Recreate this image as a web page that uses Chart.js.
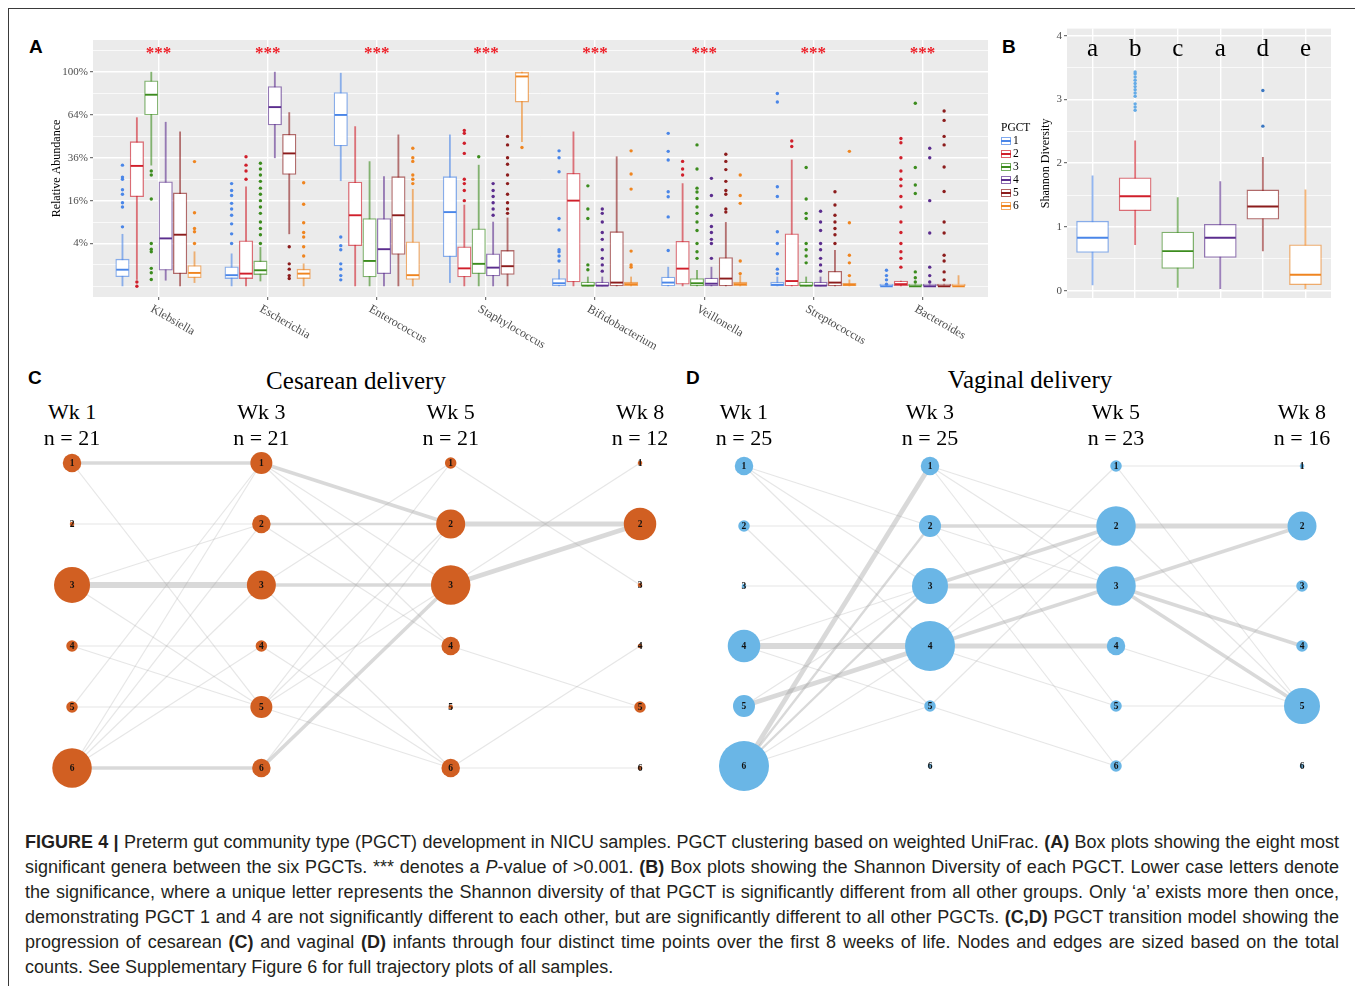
<!DOCTYPE html>
<html>
<head>
<meta charset="utf-8">
<script src="https://cdn.jsdelivr.net/npm/chart.js@4.4.1/dist/chart.umd.min.js"></script>
<style>
body { margin: 0; width: 1355px; height: 986px; position: relative; background: #fff; overflow: hidden; font-family: 'Liberation Serif', 'Times New Roman', serif; }
#frame { position: absolute; left: 8px; top: 8px; width: 1400px; height: 1000px; border-left: 1px solid #3a3a3a; border-top: 1px solid #3a3a3a; }
canvas { position: absolute; }
.plbl { position: absolute; font: bold 19px 'Liberation Sans', Arial, sans-serif; line-height: 22px; }
.title { position: absolute; font-size: 25px; line-height: 30px; width: 300px; margin-left: -150px; text-align: center; }
.hdr { position: absolute; font-size: 22px; line-height: 26px; width: 100px; margin-left: -50px; text-align: center; white-space: nowrap; }
#legB { position: absolute; left: 1001px; top: 121px; font-size: 11.5px; line-height: 13px; }
#legB .gl { display: inline-block; width: 8px; height: 6px; margin-right: 2px; vertical-align: -1px; border: 1px solid; }
#caption { position: absolute; left: 25px; top: 830px; width: 1314px; font: 18px 'Liberation Sans', Arial, sans-serif; line-height: 25px; color: #231f20; }
#caption .ln { white-space: nowrap; text-align: justify; text-align-last: justify; }
#caption .ln.last { text-align-last: left; }
</style>
</head>
<body>
<div id="frame"></div>

<div class="plbl" style="left:29px;top:36px">A</div>
<div class="plbl" style="left:1002px;top:36px">B</div>
<div class="plbl" style="left:28px;top:367px">C</div>
<div class="plbl" style="left:686px;top:367px">D</div>

<canvas id="chartA" width="975" height="330" style="left:20px;top:30px"></canvas>
<canvas id="chartB" width="350" height="300" style="left:995px;top:20px"></canvas>
<div id="legB"></div>

<div class="title" style="left:356px;top:366px">Cesarean delivery</div>
<div class="title" style="left:1030px;top:365px">Vaginal delivery</div>
<canvas id="chartC" width="660" height="360" style="left:30px;top:440px"></canvas>
<canvas id="chartD" width="660" height="360" style="left:690px;top:440px"></canvas>

<div id="caption">
<div class="ln"><b>FIGURE 4 |</b> Preterm gut community type (PGCT) development in NICU samples. PGCT clustering based on weighted UniFrac. <b>(A)</b> Box plots showing the eight most</div>
<div class="ln">significant genera between the six PGCTs. *** denotes a <i>P</i>-value of &gt;0.001. <b>(B)</b> Box plots showing the Shannon Diversity of each PGCT. Lower case letters denote</div>
<div class="ln">the significance, where a unique letter represents the Shannon diversity of that PGCT is significantly different from all other groups. Only ‘a’ exists more then once,</div>
<div class="ln">demonstrating PGCT 1 and 4 are not significantly different to each other, but are significantly different to all other PGCTs. <b>(C,D)</b> PGCT transition model showing the</div>
<div class="ln">progression of cesarean <b>(C)</b> and vaginal <b>(D)</b> infants through four distinct time points over the first 8 weeks of life. Nodes and edges are sized based on the total</div>
<div class="ln last">counts. See Supplementary Figure 6 for full trajectory plots of all samples.</div>
</div>

<script>
// ---- panel A: relative abundance, [lower whisker, Q1, median, Q3, upper whisker] in %
const genera = ['Klebsiella', 'Escherichia', 'Enterococcus', 'Staphylococcus', 'Bifidobacterium', 'Veillonella', 'Streptococcus', 'Bacteroides'];
const pgctLabels = ['1', '2', '3', '4', '5', '6'];
const abund1 = [[0, 0.2, 0.6, 1.6, 5.9], [0, 0.13, 0.27, 0.82, 2.3], [24.3, 42.9, 64, 81.9, 99], [0.03, 1.9, 12, 26.2, 50], [0, 0, 0.02, 0.13, 0.6], [0, 0, 0.03, 0.19, 0.8], [0, 0, 0.005, 0.04, 0.19], [0, 0, 0, 0.01, 0.01]];
const abund2 = [[0.1, 17.5, 31.6, 45.6, 62], [0, 0.13, 0.35, 4.5, 21.6], [0, 3.6, 11, 23.7, 55.6], [0, 0.19, 0.7, 3.4, 14.4], [0, 0.04, 16, 27.8, 52], [0, 0.01, 0.68, 4.4, 23], [0, 0, 0.06, 6, 34.8], [0, 0, 0.01, 0.06, 0.06]];
const abund3 = [[32, 64, 80, 92, 100], [0.06, 0.3, 0.56, 1.4, 3.3], [0, 0.19, 1.4, 10, 33.9], [0, 0.35, 1.1, 7.2, 32], [0, 0, 0.001, 0.04, 0.19], [0, 0, 0.02, 0.13, 0.56], [0, 0, 0.001, 0.04, 0.19], [0, 0, 0, 0.01, 0.01]];
const abund4 = [[0.08, 0.56, 5, 23.8, 58.7], [36, 56.7, 70, 87, 100], [0, 0.35, 3, 10, 26.2], [0, 0.23, 0.76, 2.3, 9], [0, 0, 0.001, 0.04, 0.19], [0, 0, 0.015, 0.15, 0.8], [0, 0, 0.001, 0.04, 0.19], [0, 0, 0, 0.01, 0.01]];
const abund5 = [[0, 0.35, 5.8, 19, 52], [6, 27.3, 38.5, 50.4, 65.8], [0, 2.2, 11, 26.2, 50], [0, 0.31, 0.88, 2.8, 10.2], [0, 0, 0.03, 6.5, 36.6], [0, 0, 0.13, 1.8, 8.9], [0, 0, 0.03, 0.49, 2.8], [0, 0, 0, 0.01, 0.01]];
const abund6 = [[0.03, 0.16, 0.39, 0.94, 2.6], [0, 0.13, 0.35, 0.64, 1.1], [0, 0.1, 0.27, 4.3, 20.5], [45.6, 74, 96, 99.7, 100], [0, 0, 0.01, 0.04, 0.19], [0, 0, 0.01, 0.04, 0.25], [0, 0, 0.005, 0.02, 0.09], [0, 0, 0, 0.01, 0.25]];
// outliers in %, one list per genus
const outA1 = [[7.7, 13.7, 15.2, 18.5, 20.3, 25, 26, 32], [4, 6, 8.5, 11, 13, 15, 18, 20, 23], [0.09, 0.25, 0.64, 1.1, 2.9, 3.6, 5.3], [], [1.4, 2, 2.6, 2.9, 6.9, 10, 28.6, 36, 40], [2.8, 10.5, 17.5, 19.5, 34.8, 39.7, 51], [0.35, 0.64, 2.3, 4, 6.5, 17.6, 21.6, 74, 81], [0.01, 0.09, 0.25, 0.56]];
const outA2 = [[0, 0.04], [25, 29, 32, 36.6], [], [16, 20, 23, 25, 38.5, 44.6, 51, 53], [], [27, 30, 34], [42.6, 46], [0.8, 1.7, 2.6, 4, 6.3, 9, 13.7, 17.6, 22, 25, 29, 36, 44.9, 47.6]];
const outA3 = [[0.1, 0.4, 0.7, 2.6, 3, 4, 16.6, 27, 29], [4, 5.8, 7.3, 9, 11.6, 13.7, 16, 18.5, 21, 24, 27, 30, 33], [], [36.6], [0.6, 1, 10, 13, 22], [1.7, 2.6, 4, 6.8, 9, 11.6, 13.7, 16.8, 19.4, 21, 30, 43.6], [1.2, 2, 2.9, 4, 10, 11.6, 16.6, 30.8], [0.04, 0.16, 0.45, 18.8, 22.4, 30.8, 73]];
const outA4 = [[], [], [], [11, 13, 15.2, 17.6, 20, 23], [0.5, 1, 1.7, 2.9, 4.8, 6.3, 9, 11.6, 13], [1.7, 4, 4.8, 6.3, 7.8, 11, 18, 25.4], [0.5, 1, 1.7, 2.9, 4, 6.8, 9, 12.3], [0.04, 0.25, 0.8, 6.2, 16, 36, 41.5]];
const outA5 = [[], [0.13, 0.25, 0.64, 1.1, 3.4], [], [11.6, 13, 15.2, 18.5, 23, 27, 32.5, 36, 43.6, 49], [], [12, 13, 18.5, 20, 24, 29.7, 34, 38], [4, 5.8, 7.3, 9, 11, 14.4, 19.5], [0.09, 0.45, 1.4, 2.1, 6.2, 9, 19.6, 31, 43.6, 49, 60, 67]];
const outA6 = [[4, 6.5, 7.3, 11.8, 33.9], [2, 3.4, 5.3, 6.3, 8.8, 14.7, 23.4], [23, 25, 27, 34, 36, 41.5], [42], [0.8, 1, 2.7, 20.6, 27.5, 40], [0.35, 1.4, 15, 18, 27], [0.25, 1.2, 2.1, 8.8, 39.7], []];
const abundTicks = [0, 0.1, 0.2, 0.3, 0.4, 0.5, 0.6, 0.7, 0.8, 0.9, 1.0, 1.1];   // sqrt scale
const abundLabelled = [0.2, 0.4, 0.6, 0.8, 1.0];

// ---- panel B: Shannon diversity
const shannon = [[0.09, 0.6, 0.83, 1.09, 1.8], [0.72, 1.255, 1.48, 1.77, 2.35], [0.05, 0.35, 0.62, 0.92, 1.46], [0.03, 0.52, 0.83, 1.04, 1.71], [0.625, 1.12, 1.32, 1.58, 2.09], [0.026, 0.094, 0.25, 0.72, 1.58]];
const shannonOut = [[], [2.83, 2.88, 2.93, 3.05, 3.1, 3.15, 3.2, 3.25, 3.3, 3.35, 3.4, 3.43], [], [], [2.58, 3.14], []];
const sigLetters = ['a', 'b', 'c', 'a', 'd', 'e'];
const shannonTicks = [0, 0.5, 1, 1.5, 2, 2.5, 3, 3.5, 4];

// ---- panels C, D: PGCT counts per week and transitions [from, to, count]
const weeks = ['Wk 1', 'Wk 3', 'Wk 5', 'Wk 8'];
const cesN = [21, 21, 21, 12];
const vagN = [25, 25, 23, 16];
const cesNodes = [[3, 0, 8, 1, 1, 9], [4, 3, 6, 1, 4, 3], [1, 6, 9, 3, 0, 3], [0, 7, 0, 0, 1, 0]];
const vagNodes = [[3, 1, 0, 7, 4, 12], [3, 4, 8, 12, 1, 0], [1, 9, 9, 3, 1, 1], [0, 6, 1, 1, 8, 0]];
const cesW1W3 = [[1, 1, 3], [1, 5, 1], [2, 2, 1], [3, 2, 1], [3, 3, 5], [3, 5, 1], [4, 4, 1], [4, 5, 1], [5, 1, 1], [5, 5, 1], [6, 1, 1], [6, 2, 1], [6, 3, 1], [6, 4, 1], [6, 6, 3]];
const cesW3W5 = [[1, 2, 3], [1, 3, 1], [1, 4, 1], [2, 2, 2], [2, 4, 1], [3, 1, 1], [3, 3, 3], [3, 6, 1], [4, 4, 1], [4, 6, 1], [5, 1, 1], [5, 2, 1], [5, 3, 1], [5, 5, 1], [5, 6, 1], [6, 2, 1], [6, 3, 3]];
const cesW5W8 = [[1, 3, 1], [2, 2, 4], [3, 1, 1], [3, 2, 4], [4, 5, 1], [5, 5, 1], [6, 4, 1], [6, 6, 1]];
const vagW1W3 = [[1, 2, 1], [1, 3, 1], [1, 4, 1], [2, 2, 1], [2, 5, 1], [3, 3, 1], [4, 3, 1], [4, 4, 5], [4, 5, 1], [5, 3, 1], [5, 4, 4], [6, 1, 4], [6, 2, 2], [6, 3, 2], [6, 4, 1], [6, 5, 1]];
const vagW3W5 = [[1, 2, 1], [1, 3, 1], [1, 5, 1], [2, 2, 3], [2, 3, 1], [2, 6, 1], [3, 2, 3], [3, 3, 4], [4, 1, 1], [4, 2, 1], [4, 3, 3], [4, 4, 4], [4, 5, 1], [5, 2, 1], [5, 6, 1]];
const vagW5W8 = [[1, 1, 1], [1, 5, 1], [2, 2, 4], [2, 5, 1], [3, 2, 3], [3, 3, 1], [3, 4, 3], [3, 5, 3], [4, 5, 1], [5, 5, 1], [6, 3, 1]];

// styles
const pgctColors = ['#4a86e8', '#d01f2b', '#3c8c1e', '#5b2d8e', '#8c1c1c', '#ef8520'];
const shannonOutColors = ['#4a86e8', '#65abe6', '#3c8c1e', '#5b2d8e', '#3a77c2', '#ef8520'];
const cesColor = '#d15f22';
const vagColor = '#6ab6e6';
const serif = "'Liberation Serif', 'Times New Roman', serif";

Chart.defaults.font.family = serif;
Chart.defaults.animation = false;
Chart.defaults.events = [];
Chart.defaults.plugins.legend.display = false;
Chart.defaults.plugins.tooltip.enabled = false;

function fade(hex, a) {
    const n = parseInt(hex.slice(1), 16);
    return `rgba(${n >> 16},${(n >> 8) & 255},${n & 255},${a})`;
}
const sq = p => Math.sqrt(p / 100);
const near = (list, v) => list.some(m => Math.abs(m - v) < 1e-6);

// builds whisker, box, median and outlier datasets for one group of boxes
function boxDatasets(stats, outliers, xOf, col, outCol, boxPx, tf) {
    return [
        { type: 'bar', order: 4, grouped: false, barThickness: 1.2, borderWidth: 0,
          backgroundColor: fade(col, 0.6),
          data: stats.map((s, i) => ({ x: xOf(i), y: [tf(s[0]), tf(s[4])] })) },
        { type: 'bar', order: 3, grouped: false, barThickness: boxPx, borderWidth: 1.3, borderSkipped: false,
          backgroundColor: '#ffffff', borderColor: fade(col, 0.62),
          data: stats.map((s, i) => ({ x: xOf(i), y: [tf(s[1]), tf(s[3])] })) },
        { type: 'scatter', order: 2, pointStyle: 'line', pointRadius: boxPx / 2 - 0.5,
          pointBorderColor: col, pointBorderWidth: 1.9,
          data: stats.map((s, i) => ({ x: xOf(i), y: tf(s[2]) })) },
        { type: 'scatter', order: 1, pointStyle: 'circle', pointRadius: 1.7,
          pointBackgroundColor: outCol, pointBorderWidth: 0,
          data: outliers.flatMap((list, i) => list.map(v => ({ x: xOf(i), y: tf(v) }))) }
    ];
}

function greyPanel(id) {
    return {
        id: id,
        beforeDraw(chart) {
            const { ctx, chartArea: a } = chart;
            ctx.save();
            ctx.fillStyle = '#ebebeb';
            ctx.fillRect(a.left, a.top, a.right - a.left, a.bottom - a.top);
            ctx.restore();
        }
    };
}

// ---------------- panel A
const abundStats = [abund1, abund2, abund3, abund4, abund5, abund6];
const abundOut = [outA1, outA2, outA3, outA4, outA5, outA6];
const dodge = 0.132;
let datasetsA = [];
abundStats.forEach((stats, k) => {
    const off = (k - 2.5) * dodge;
    datasetsA = datasetsA.concat(boxDatasets(stats, abundOut[k], i => i + 1 + off, pgctColors[k], pgctColors[k], 13.5, sq));
});

const decorA = {
    id: 'decorA',
    afterDraw(chart) {
        const { ctx, chartArea: a, scales } = chart;
        ctx.save();
        genera.forEach((g, i) => {
            const x = scales.x.getPixelForValue(i + 1);
            ctx.save();
            ctx.translate(x - 4, a.bottom + 6);
            ctx.rotate(Math.PI / 6);
            ctx.font = '12px ' + serif;
            ctx.fillStyle = '#4d4d4d';
            ctx.textAlign = 'left';
            ctx.textBaseline = 'top';
            ctx.fillText(g, 0, 0);
            ctx.restore();
            ctx.font = 'bold 17px ' + serif;
            ctx.fillStyle = '#ee1c25';
            ctx.textAlign = 'center';
            ctx.textBaseline = 'alphabetic';
            ctx.fillText('***', x, a.top + 18);
        });
        ctx.restore();
    }
};

new Chart(document.getElementById('chartA'), {
    type: 'bar',
    data: { datasets: datasetsA },
    options: {
        responsive: false,
        layout: { autoPadding: false, padding: { top: 10, right: 7, left: 0, bottom: 0 } },
        scales: {
            x: {
                type: 'linear', min: 0.4, max: 8.6, offset: false,
                afterBuildTicks: s => { s.ticks = genera.map((g, i) => ({ value: i + 1 })); },
                afterFit: s => { s.height = 63; },
                ticks: { display: false },
                grid: { color: '#ffffff', lineWidth: 1.4, offset: false, drawTicks: true, tickLength: 3, tickColor: '#555', tickWidth: 1 },
                border: { display: false }
            },
            y: {
                min: -0.05, max: 1.15,
                afterBuildTicks: s => { s.ticks = abundTicks.map(v => ({ value: v })); },
                afterFit: s => { s.width = 73; },
                ticks: {
                    padding: 2, color: '#4d4d4d', font: { size: 11 },
                    callback: v => near(abundLabelled, v) ? Math.round(v * v * 100) + '%' : ''
                },
                grid: {
                    color: '#ffffff', tickLength: 3, tickWidth: 1,
                    lineWidth: c => near(abundLabelled, c.tick.value) ? 1.4 : 0.7,
                    tickColor: c => near(abundLabelled, c.tick.value) ? '#555' : 'rgba(0,0,0,0)'
                },
                border: { display: false },
                title: { display: true, text: 'Relative Abundance', color: '#000', font: { size: 12 }, padding: { top: 30, bottom: 0 } }
            }
        }
    },
    plugins: [greyPanel('bgA'), decorA]
});

// ---------------- panel B
let datasetsB = [];
shannon.forEach((s, k) => {
    datasetsB = datasetsB.concat(boxDatasets([s], [shannonOut[k]], () => k + 1, pgctColors[k], shannonOutColors[k], 32, v => v));
});

const decorB = {
    id: 'decorB',
    afterDraw(chart) {
        const { ctx, chartArea: a, scales } = chart;
        ctx.save();
        ctx.font = '25px ' + serif;
        ctx.fillStyle = '#000';
        ctx.textAlign = 'center';
        sigLetters.forEach((l, i) => ctx.fillText(l, scales.x.getPixelForValue(i + 1), a.top + 27));
        ctx.restore();
    }
};

new Chart(document.getElementById('chartB'), {
    type: 'bar',
    data: { datasets: datasetsB },
    options: {
        responsive: false,
        layout: { autoPadding: false, padding: { top: 8, right: 14, left: 0, bottom: 0 } },
        scales: {
            x: {
                type: 'linear', min: 0.4, max: 6.6, offset: false,
                afterBuildTicks: s => { s.ticks = pgctLabels.map((g, i) => ({ value: i + 1 })); },
                afterFit: s => { s.height = 22; },
                ticks: { display: false },
                grid: { color: '#ffffff', lineWidth: 1.4, offset: false, drawTicks: false },
                border: { display: false }
            },
            y: {
                min: -0.115, max: 4.11,
                afterBuildTicks: s => { s.ticks = shannonTicks.map(v => ({ value: v })); },
                afterFit: s => { s.width = 72; },
                ticks: { padding: 2, color: '#4d4d4d', font: { size: 11 }, callback: v => Number.isInteger(v) ? String(v) : '' },
                grid: {
                    color: '#ffffff', tickLength: 3, tickWidth: 1,
                    lineWidth: c => Number.isInteger(c.tick.value) ? 1.4 : 0.7,
                    tickColor: c => Number.isInteger(c.tick.value) ? '#555' : 'rgba(0,0,0,0)'
                },
                border: { display: false },
                title: { display: true, text: 'Shannon Diversity', color: '#000', font: { size: 12 }, padding: { top: 44, bottom: 0 } }
            }
        }
    },
    plugins: [greyPanel('bgB'), decorB]
});

// legend for B
const leg = document.getElementById('legB');
leg.innerHTML = '<div>PGCT</div>' + pgctLabels.map((l, k) =>
    `<div><span class="gl" style="border-color:${fade(pgctColors[k], 0.7)};background:linear-gradient(#fff 40%, ${pgctColors[k]} 40%, ${pgctColors[k]} 62%, #fff 62%)"></span>${l}</div>`).join('');

// ---------------- panels C and D
const nodeRadius = c => c > 0 ? 4 + 1.75 * c : 2.3;
const edgeWidth = c => 1.2 * c;
const edgeColor = c => c > 1 ? 'rgba(160,160,160,0.4)' : 'rgba(160,160,160,0.26)';

function networkDatasets(nodes, transitions, color) {
    const sets = [];
    transitions.forEach((list, w) => {
        list.forEach(([a, b, c]) => {
            sets.push({
                type: 'line', order: 2, data: [{ x: w + 1, y: a }, { x: w + 2, y: b }],
                borderColor: edgeColor(c), borderWidth: edgeWidth(c), pointRadius: 0, fill: false, clip: false
            });
        });
    });
    sets.push({
        type: 'bubble', order: 1, clip: false, backgroundColor: color, borderWidth: 0,
        data: nodes.flatMap((col, w) => col.map((c, k) => ({ x: w + 1, y: k + 1, r: nodeRadius(c) })))
    });
    return sets;
}

const nodeLabels = {
    id: 'nodeLabels',
    afterDatasetsDraw(chart) {
        const ctx = chart.ctx;
        ctx.save();
        ctx.font = 'bold 9.5px ' + serif;
        ctx.fillStyle = '#111';
        ctx.textAlign = 'center';
        ctx.textBaseline = 'middle';
        chart.data.datasets.forEach((ds, i) => {
            if (ds.type !== 'bubble') return;
            chart.getDatasetMeta(i).data.forEach((el, j) => ctx.fillText(String(ds.data[j].y), el.x, el.y + 0.5));
        });
        ctx.restore();
    }
};

function networkChart(id, nodes, transitions, color, xr, yr, nList, canvasLeft, canvasTop) {
    const chart = new Chart(document.getElementById(id), {
        type: 'scatter',
        data: { datasets: networkDatasets(nodes, transitions, color) },
        options: {
            responsive: false,
            layout: { autoPadding: false, padding: 0 },
            scales: {
                x: { type: 'linear', display: false, min: xr[0], max: xr[1] },
                y: { type: 'linear', display: false, reverse: true, min: yr[0], max: yr[1] }
            }
        },
        plugins: [nodeLabels]
    });
    weeks.forEach((w, i) => {
        const x = canvasLeft + chart.scales.x.getPixelForValue(i + 1);
        const h1 = document.createElement('div');
        h1.className = 'hdr';
        h1.style.left = x + 'px';
        h1.style.top = (canvasTop - 41) + 'px';
        h1.textContent = w;
        const h2 = document.createElement('div');
        h2.className = 'hdr';
        h2.style.left = x + 'px';
        h2.style.top = (canvasTop - 15) + 'px';
        h2.textContent = 'n = ' + nList[i];
        document.body.appendChild(h1);
        document.body.appendChild(h2);
    });
    return chart;
}

networkChart('chartC', cesNodes, [cesW1W3, cesW3W5, cesW5W8], cesColor, [0.778, 4.264], [0.623, 6.525], cesN, 30, 440);
networkChart('chartD', vagNodes, [vagW1W3, vagW3W5, vagW5W8], vagColor, [0.7097, 4.258], [0.5667, 6.5667], vagN, 690, 440);
</script>
</body>
</html>
